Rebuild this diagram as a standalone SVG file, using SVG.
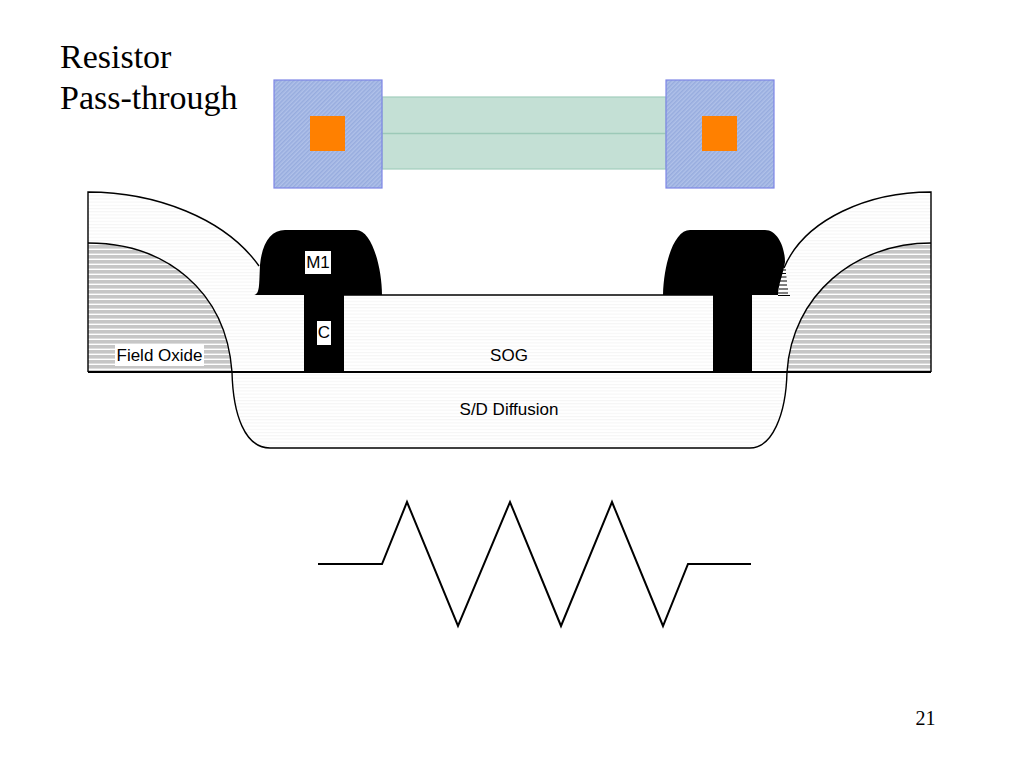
<svg xmlns="http://www.w3.org/2000/svg" width="1024" height="768" viewBox="0 0 1024 768">
<style>
.t{font-family:"Liberation Serif",serif;font-size:34px;fill:#000}
.s{font-family:"Liberation Sans",sans-serif;font-size:17px;fill:#000}
.o{stroke:#000;stroke-width:1.4;fill:none}
.base{stroke:#000;stroke-width:2;fill:none}
.pad{fill:url(#bl);stroke:#7e86e6;stroke-width:1.2}
.via{fill:#ff8000}
.res{fill:#c4e0d5;stroke:#a2cdbd;stroke-width:1.2}
.lab{fill:#fff}
</style>
<defs>
<pattern id="lt" width="6" height="3.2" patternUnits="userSpaceOnUse"><rect width="6" height="3.2" fill="#fff"/><rect width="6" height="1" fill="#f5f5f5"/></pattern>
<pattern id="fo" width="6" height="5" patternUnits="userSpaceOnUse"><rect width="6" height="5" fill="#fff"/><rect width="6" height="3.6" fill="#c6c6c6"/></pattern>
<pattern id="bl" width="3" height="3" patternUnits="userSpaceOnUse" patternTransform="rotate(45)"><rect width="3" height="3" fill="#b0c1e9"/><rect width="1.500" height="3" fill="#97acde"/></pattern>
</defs>
<text class="t" x="60" y="68">Resistor</text>
<text class="t" x="60" y="109">Pass-through</text>
<g id="resistor-strip">
<rect class="res" x="382" y="97" width="284" height="72"/>
<line x1="382" y1="133.500" x2="666" y2="133.500" stroke="#9cc9b8" stroke-width="1.500"/>
</g>
<g id="pad-left"><rect class="pad" x="274" y="80" width="108" height="108"/><rect class="via" x="310" y="116" width="35" height="35"/></g>
<g id="pad-right"><rect class="pad" x="666" y="80" width="108" height="108"/><rect class="via" x="702" y="116" width="35" height="35"/></g>
<g id="sog">
<path d="M88 192C155 192 225 218 259 266L262 295H782L784 268C805 218 870 192 931 192V372H88Z" fill="url(#lt)"/>
<line class="o" x1="344" y1="295" x2="713" y2="295"/>
<text class="s" x="509" y="361" text-anchor="middle">SOG</text>
</g>
<g id="field-oxide-left">
<path d="M88 243C165 243 226 290 232 372H88Z" fill="url(#fo)"/>
<path class="o" d="M88 243C165 243 226 290 232 372"/>
<rect class="lab" x="115" y="345" width="89" height="21"/>
<text class="s" x="159.500" y="361" text-anchor="middle">Field Oxide</text>
</g>
<g id="field-oxide-right">
<path d="M931 243C855 243 792 295 787 372H931Z" fill="url(#fo)"/>
<path class="o" d="M931 243C855 243 792 295 787 372"/>
</g>
<g id="diffusion">
<path d="M232 372C233 415 245 448 270 448H750C772 448 786 415 787 372Z" fill="url(#lt)"/>
<path class="o" d="M232 372C233 415 245 448 270 448H750C772 448 786 415 787 372"/>
<text class="s" x="509" y="415" text-anchor="middle">S/D Diffusion</text>
</g>
<g id="outline">
<path class="o" d="M259 266C225 218 155 192 88 192V372M931 372V192C870 192 805 218 784 268"/>
<line class="base" x1="88" y1="372" x2="931" y2="372"/>
</g>
<g id="m1-left">
<path d="M254 295C260 294 259 285 260 265C262 243 271 230 285 230H356C372 230 382 268 382 295H344V372H304V295Z" fill="#000"/>
<rect class="lab" x="305" y="251" width="26" height="23"/>
<text class="s" x="318" y="268" text-anchor="middle">M1</text>
<rect class="lab" x="317" y="321" width="14" height="24"/>
<text class="s" x="324" y="338" text-anchor="middle">C</text>
</g>
<g id="m1-right">
<path d="M663 295C664 260 675 230 690 230H765C778 230 785 248 785 262C783 275 778 285 778 295H752V372H713V295Z" fill="#000"/>
<path stroke="#000" stroke-width="1" d="M782 270H786M781 273.500H786M780 277H786.500M780 281H787M779 285H787M779 289H788M778 293H788M778 295.500H790" fill="none"/>
</g>
<g id="resistor-symbol">
<path d="M318 564H382L407 502L458 626L510 502L561 626L612 502L663 626L688 564H751" fill="none" stroke="#000" stroke-width="2"/>
</g>
<text x="925.500" y="725" text-anchor="middle" style="font-family:'Liberation Serif',serif;font-size:20px">21</text>
</svg>
